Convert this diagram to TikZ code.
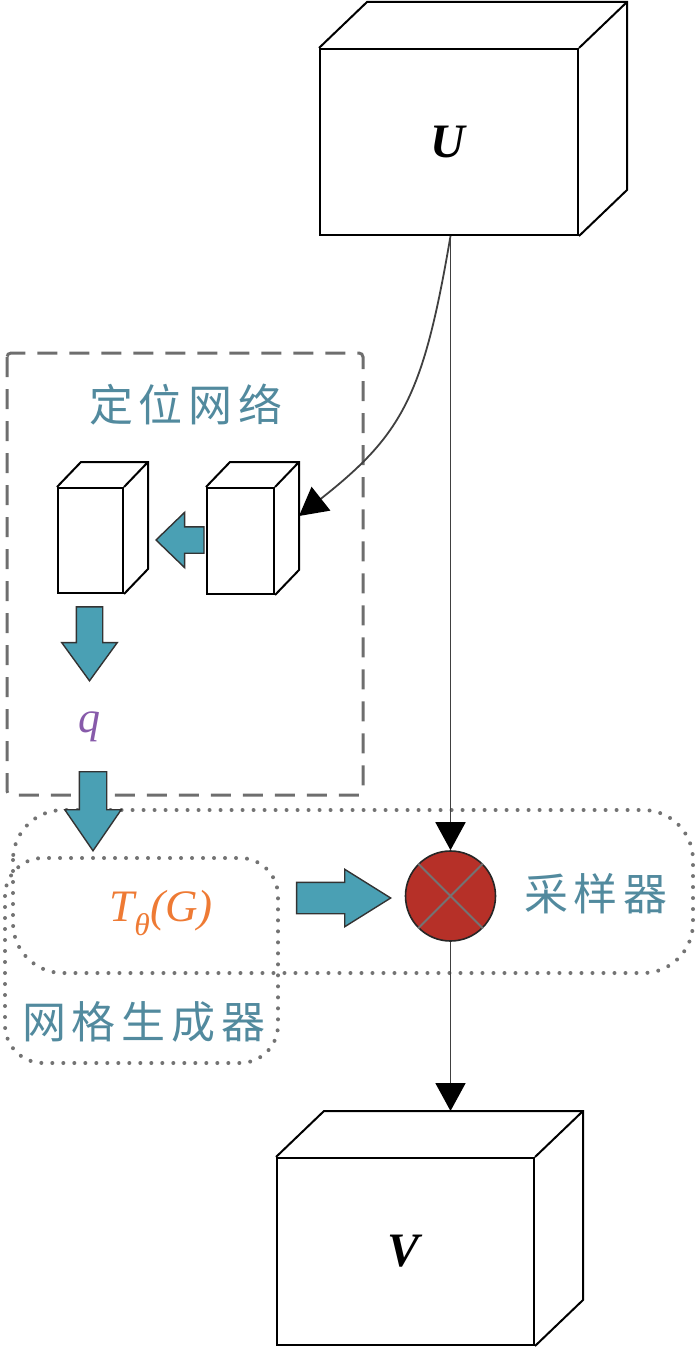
\documentclass[tikz,border=0pt]{standalone}
\usepackage{fontspec}
\setmainfont{Liberation Serif}
\newfontfamily\cjk{Noto Sans CJK SC}
\usepackage{tikz}
\usetikzlibrary{calc,arrows.meta,shapes.arrows}

\definecolor{labelteal}{RGB}{82,138,158}
\definecolor{arrowteal}{RGB}{74,160,180}
\definecolor{samplered}{RGB}{182,48,40}
\definecolor{gridorange}{RGB}{238,122,52}
\definecolor{qpurple}{RGB}{135,90,170}
\definecolor{framegrey}{RGB}{110,110,110}
\definecolor{dotgrey}{RGB}{115,115,115}

% back edges of a box whose front face is node #1, depth (#2,#3)
\newcommand\cubeback[3]{%
  \draw[boxline] (#1.north west) -- ++(#2,#3) -- ($(#1.north east)+(#2,#3)$)
    -- ($(#1.south east)+(#2,#3)$) -- (#1.south east)
    (#1.north east) -- ++(#2,#3);}
\newcommand\cjkgap{\hspace{6pt}}

\begin{document}
\begin{tikzpicture}[
  x=1pt, y=-1pt,
  boxline/.style={line width=2pt, line join=miter},
  front/.style={draw, boxline, fill=white, inner sep=0pt},
  conn/.style={line width=1.8pt, draw=black!75, -{Triangle[width=30pt,length=28pt,color=black]}},
  fat/.style n args={4}{single arrow, draw=black!80, line width=1.4pt, fill=arrowteal,
    inner sep=#1, single arrow head extend=#2, single arrow tip angle=#3,
    minimum height=#4, anchor=tip},
  cjklabel/.style={text=labelteal, font=\cjk\fontsize{44}{44}\selectfont, inner sep=0pt},
  dashbox/.style={draw=framegrey, line width=3pt, dash pattern=on 20pt off 12pt, rounded corners=4pt},
  dotbox/.style={draw=dotgrey, line width=4pt, line cap=round, dash pattern=on 0pt off 11pt}
]
\useasboundingbox (0,0) rectangle (700,1351);

% regions
\draw[dashbox] (7,353) rectangle (363,795);
\draw[dotbox, rounded corners=50pt] (13,810) rectangle (693,973);
\draw[dotbox, rounded corners=38pt] (5,858) rectangle (278,1063);

% input and output volumes
\node[front, minimum width=258pt, minimum height=186pt] (U) at (449,142)
  {\fontsize{48}{48}\selectfont\textbf{\textit{U}}};
\cubeback{U}{48}{-46}
\node[front, minimum width=257pt, minimum height=187pt] (V) at (405.5,1251.5)
  {\fontsize{48}{48}\selectfont\textbf{\textit{V}}};
\cubeback{V}{48}{-46}
\coordinate (Vtop) at ($(V.north)+(48,-46)$);

% localisation network
\node[cjklabel] (loctitle) at (186,405) {定\cjkgap 位\cjkgap 网\cjkgap 络};
\node[front, minimum width=65pt, minimum height=105pt] (loc1) at (90.5,540.5) {};
\cubeback{loc1}{24}{-25}
\node[front, minimum width=67pt, minimum height=106pt] (loc2) at (240.5,541) {};
\cubeback{loc2}{24}{-25}
\coordinate (loc2in) at ($(loc2.east)+(24,-25)$);
\node[fat={12.5pt}{14.5pt}{88}{48pt}, rotate=180] (flowA) at (155,540) {};
\node[fat={12.5pt}{14.5pt}{72}{74pt}, rotate=-90] (flowB) at (89.5,682) {};
\node[text=qpurple, font=\fontsize{44}{44}\selectfont\itshape, inner sep=0pt] (q) at (89,727) {q};

% grid generator and sampler
\node[text=gridorange, font=\fontsize{45}{45}\selectfont\itshape, inner sep=0pt] (grid) at (161,913)
  {T\textsubscript{θ}(G)};
\node[cjklabel] (gridtitle) at (144,1022) {网\cjkgap 格\cjkgap 生\cjkgap 成\cjkgap 器};
\node[circle, draw=black!85, line width=1.6pt, fill=samplered, minimum size=90pt, inner sep=0pt] (samp) at (450.5,896) {};
\draw[black!55, line width=2pt] (samp.45) -- (samp.225) (samp.135) -- (samp.315);
\node[cjklabel] (samptitle) at (596,894) {采\cjkgap 样\cjkgap 器};
\node[fat={15pt}{13pt}{64}{94pt}] (flowD) at (392,898) {};
\node[fat={13pt}{14.5pt}{69}{79pt}, rotate=-90] (flowC) at (93,852) {};

% connectors
\draw[conn] (samp |- U.south) -- (samp.north);
\draw[conn] (samp |- U.south) .. controls +(-27,159) and +(104,-82) .. (loc2in);
\draw[conn] (samp.south) -- (samp |- Vtop);
\end{tikzpicture}
\end{document}
